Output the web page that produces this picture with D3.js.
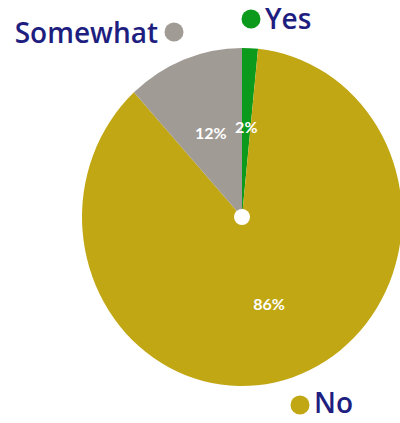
<!DOCTYPE html>
<html>
<head>
<meta charset="utf-8">
<script src="https://cdn.jsdelivr.net/npm/d3@7"></script>
<style>
  html, body { margin: 0; padding: 0; background: #fff; }
</style>
</head>
<body>
<div id="vis"></div>
<script>
// data
var categories = ["Yes", "No", "Somewhat"];
var values = [1.6, 86.6, 11.8];
var valueLabels = ["2%", "86%", "12%"];
var colors = ["#0c9a1c", "#c1a714", "#a19b96"];

var width = 400;
var height = 423;

var svg = d3.select("#vis")
  .append("svg")
  .attr("width", width)
  .attr("height", height);

var cx = 242, cy = 217;
var radius = 160;
var squash = 169 / 160;   // pie in the picture is slightly taller than wide

var data = categories.map(function(c, i) {
  return { name: c, value: values[i], label: valueLabels[i], color: colors[i] };
});

var pie = d3.pie()
  .sort(null)
  .value(function(d) { return d.value; });

var arcs = pie(data);

var arc = d3.arc().innerRadius(0).outerRadius(radius);
var labelArc = d3.arc().innerRadius(86).outerRadius(86);

var g = svg.append("g")
  .attr("transform", "translate(" + cx + "," + cy + ") scale(1," + squash + ")");

g.selectAll(".slice")
  .data(arcs)
  .enter()
  .append("path")
  .attr("class", "slice")
  .attr("d", arc)
  .attr("fill", function(d) { return d.data.color; });

// white hole in the middle
svg.append("circle")
  .attr("cx", cx)
  .attr("cy", cy)
  .attr("r", 8)
  .attr("fill", "#fff");

// percentage labels
svg.selectAll(".pct")
  .data(arcs)
  .enter()
  .append("text")
  .attr("class", "pct")
  .attr("x", function(d) { return cx + labelArc.centroid(d)[0]; })
  .attr("y", function(d) { return cy + labelArc.centroid(d)[1] * squash; })
  .attr("text-anchor", "middle")
  .attr("dominant-baseline", "central")
  .attr("fill", "#fff")
  .style("font-family", "Lato, sans-serif")
  .style("font-weight", "bold")
  .style("font-size", "16px")
  .text(function(d) { return d.data.label; });

// legend entries, placed by hand around the pie
var legend = [
  { name: "Somewhat", dot: [174, 32], text: [158, 43], anchor: "end" },
  { name: "Yes", dot: [251, 19], text: [265, 29], anchor: "start" },
  { name: "No", dot: [300, 405], text: [314, 413], anchor: "start" }
];

legend.forEach(function(l) {
  var d = data.filter(function(x) { return x.name == l.name; })[0];
  svg.append("circle")
    .attr("cx", l.dot[0])
    .attr("cy", l.dot[1])
    .attr("r", 9.5)
    .attr("fill", d.color);
  svg.append("text")
    .attr("x", l.text[0])
    .attr("y", l.text[1])
    .attr("text-anchor", l.anchor)
    .attr("fill", "#1e1e80")
    .style("font-family", "'Open Sans', sans-serif")
    .style("font-weight", "600")
    .style("font-size", "28px")
    .text(l.name);
});
</script>
</body>
</html>
